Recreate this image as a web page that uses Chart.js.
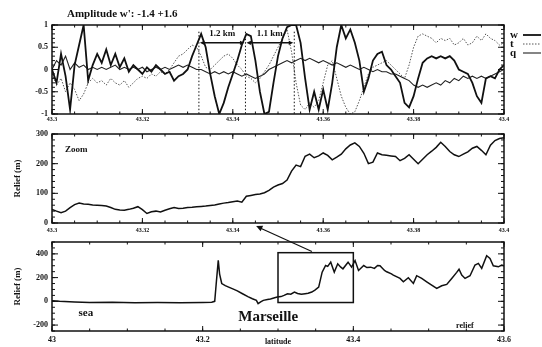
<!DOCTYPE html>
<html>
<head>
<meta charset="utf-8">
<script src="https://cdn.jsdelivr.net/npm/chart.js@4.4.1/dist/chart.umd.min.js"></script>
<style>
    html, body { margin: 0; padding: 0; background: #fff; }
    #wrap { position: relative; width: 542px; height: 347px; }
    canvas { position: absolute; left: 0; top: 0; }
</style>
</head>
<body>
<div id="wrap">
    <canvas id="c1" width="542" height="347"></canvas>
    <canvas id="c2" width="542" height="347"></canvas>
    <canvas id="c3" width="542" height="347"></canvas>
</div>
<script>
// latitude of the zoomed track (panels 1 and 2)
const lat = [43.300,43.301,43.302,43.303,43.304,43.305,43.306,43.307,43.308,43.309,
    43.310,43.311,43.312,43.313,43.314,43.315,43.316,43.317,43.318,43.319,
    43.320,43.321,43.322,43.323,43.324,43.325,43.326,43.327,43.328,43.329,
    43.330,43.331,43.332,43.333,43.334,43.335,43.336,43.337,43.338,43.339,
    43.340,43.341,43.342,43.343,43.344,43.345,43.346,43.347,43.348,43.349,
    43.350,43.351,43.352,43.353,43.354,43.355,43.356,43.357,43.358,43.359,
    43.360,43.361,43.362,43.363,43.364,43.365,43.366,43.367,43.368,43.369,
    43.370,43.371,43.372,43.373,43.374,43.375,43.376,43.377,43.378,43.379,
    43.380,43.381,43.382,43.383,43.384,43.385,43.386,43.387,43.388,43.389,
    43.390,43.391,43.392,43.393,43.394,43.395,43.396,43.397,43.398,43.399,
    43.400];

// normalised amplitudes
const wVals = [0.0,-0.3,0.35,-0.15,-0.9,0.1,0.55,1.0,-0.25,0.1,
    0.35,0.15,0.45,0.1,0.35,0.05,0.25,-0.05,0.1,0.0,
    -0.1,0.05,-0.05,0.1,0.0,-0.1,-0.05,-0.25,-0.15,-0.1,
    0.0,0.3,0.55,0.8,0.5,-0.1,-0.6,-1.0,-0.75,-0.4,
    -0.1,0.2,0.55,0.8,0.75,0.2,-0.5,-1.0,-0.95,-0.3,
    0.3,0.7,0.95,1.0,1.0,0.6,-0.2,-0.9,-0.5,-0.9,
    -0.45,-0.9,-0.3,0.5,1.0,0.7,0.9,0.6,0.2,-0.5,
    -0.2,0.2,0.35,0.4,0.1,0.0,-0.15,-0.3,-0.75,-0.85,
    -0.6,-0.2,0.15,0.25,0.3,0.25,0.3,0.25,0.3,0.2,
    0.0,-0.05,-0.1,-0.3,-0.6,-0.75,-0.2,-0.15,-0.2,0.0,
    0.1];
const tVals = [-0.1,-0.35,-0.2,-0.5,-0.3,-0.45,-0.7,-0.55,-0.3,-0.2,
    -0.3,-0.25,-0.35,-0.2,-0.3,-0.35,-0.25,-0.4,-0.3,-0.2,
    -0.15,-0.2,-0.1,-0.15,-0.05,-0.1,0.0,0.15,0.3,0.35,
    0.45,0.55,0.5,0.3,0.05,0.0,0.1,0.2,0.3,0.35,
    0.25,0.1,0.0,-0.15,-0.2,-0.3,-0.2,-0.05,0.1,0.3,
    0.5,0.7,0.9,0.4,-0.3,-0.8,-0.9,-0.75,-0.85,-0.7,
    -0.3,0.1,0.2,-0.2,-0.6,-0.85,-1.0,-0.95,-0.7,-0.4,
    -0.1,0.05,0.1,0.15,0.2,0.1,0.0,-0.1,-0.2,0.1,
    0.5,0.75,0.8,0.75,0.7,0.6,0.7,0.65,0.7,0.55,
    0.6,0.7,0.55,0.6,0.75,0.65,0.8,0.7,0.65,0.55,
    0.6];
const qVals = [0.0,0.2,0.1,0.3,0.0,0.15,0.05,0.1,0.0,0.05,
    0.0,0.05,0.0,0.05,0.1,0.0,0.05,0.0,0.05,0.0,
    0.05,-0.05,0.0,0.05,0.0,0.05,0.0,0.05,0.1,0.05,
    0.1,0.05,0.0,0.0,-0.05,-0.1,-0.05,-0.1,-0.05,-0.1,
    -0.05,-0.1,-0.15,-0.1,-0.15,-0.2,-0.15,-0.1,0.0,0.05,
    0.1,0.15,0.2,0.15,0.2,0.25,0.2,0.25,0.2,0.15,
    0.2,0.15,0.1,0.15,0.1,0.05,0.1,0.05,0.0,0.05,
    0.0,-0.05,0.0,-0.05,-0.05,-0.1,-0.1,-0.15,-0.2,-0.25,
    -0.35,-0.4,-0.35,-0.4,-0.35,-0.3,-0.35,-0.25,-0.3,-0.2,
    -0.25,-0.15,-0.2,-0.15,-0.2,-0.15,-0.2,-0.15,-0.1,-0.05,
    0.0];

// relief on the zoomed track (m)
const reliefZoom = [46,40,35,40,52,62,67,64,63,61,
    60,59,57,52,46,44,43,46,50,55,
    45,32,38,40,37,43,48,52,49,50,
    52,53,55,56,57,59,61,64,67,69,
    72,74,70,90,93,96,98,102,110,121,
    128,133,145,175,195,190,225,232,220,226,
    236,228,213,222,232,250,263,270,258,235,
    200,205,236,230,228,226,224,210,218,230,
    215,200,215,230,242,255,272,258,241,230,
    224,232,240,252,258,245,230,262,278,285,
    287];

// full track: sea -> Marseille -> inland
const latWide = [43.000,43.010,43.030,43.050,43.080,43.110,43.140,43.170,43.200,43.212,
    43.216,43.218,43.2207,43.2225,43.2253,43.230,43.2345,43.240,43.246,43.2529,
    43.260,43.266,43.2713,43.2736,43.277,43.2805,43.286,43.290,43.2989,43.304,
    43.308,43.3126,43.317,43.3218,43.326,43.331,43.336,43.340,43.3448,43.349,
    43.354,43.3586,43.3632,43.366,43.370,43.3747,43.3793,43.383,43.3862,43.393,
    43.3977,43.4023,43.4069,43.4138,43.418,43.423,43.428,43.4322,43.4354,43.4414,
    43.4443,43.4506,43.4531,43.462,43.4664,43.473,43.4797,43.4841,43.4908,43.4974,
    43.504,43.5107,43.5173,43.524,43.5306,43.5372,43.5403,43.5439,43.5483,43.5549,
    43.5615,43.566,43.5704,43.577,43.5814,43.5858,43.5925,43.597,43.600];
const reliefWide = [5,0,-5,-10,-8,-12,-10,-12,-10,-8,
    0,150,345,230,150,132,120,105,88,64,
    40,22,8,-20,-5,8,15,20,36,40,
    50,64,60,78,66,59,64,68,78,95,
    120,246,302,295,330,246,316,290,274,330,
    288,344,260,302,285,288,278,302,300,260,
    249,232,221,193,165,199,151,216,193,165,
    137,109,131,143,193,244,270,221,193,216,
    306,320,278,384,362,300,291,306,300];

// axis ticks
const ampTicks = [-1, -0.5, 0, 0.5, 1];
const zoomTicks = [43.3, 43.32, 43.34, 43.36, 43.38, 43.4];
const reliefZoomTicks = [0, 100, 200, 300];
const wideTicks = [43, 43.2, 43.4, 43.6];
const reliefWideTicks = [-200, 0, 200, 400];

// distances between updraft cores
const markLat = [43.3325, 43.3428, 43.3536];
const spanText = ['1.2 km', '1.1 km'];

const serif = '"Liberation Serif", "DejaVu Serif", serif';
const ink = '#111';

function eachStep(min, max, step, fn) {
    const n0 = Math.ceil(min / step - 1e-6), n1 = Math.floor(max / step + 1e-6);
    for (let n = n0; n <= n1; n++) fn(n * step);
}

// box around the plot with inward ticks
const frame = {
    id: 'frame',
    afterDatasetsDraw(chart, args, o) {
        const { ctx, chartArea: a, scales: { x, y } } = chart;
        ctx.save();
        ctx.strokeStyle = ink;
        ctx.lineWidth = 1.5;
        ctx.strokeRect(a.left, a.top, a.right - a.left, a.bottom - a.top);
        ctx.lineWidth = 1;
        ctx.beginPath();
        eachStep(y.min, y.max, o.yMinor, v => {
            const p = y.getPixelForValue(v);
            ctx.moveTo(a.left, p); ctx.lineTo(a.left + 3, p);
            ctx.moveTo(a.right, p); ctx.lineTo(a.right - 3, p);
        });
        y.ticks.forEach(t => {
            const p = y.getPixelForValue(t.value);
            ctx.moveTo(a.left, p); ctx.lineTo(a.left + 6, p);
            ctx.moveTo(a.right, p); ctx.lineTo(a.right - 6, p);
        });
        eachStep(x.min, x.max, o.xMinor, v => {
            const p = x.getPixelForValue(v);
            ctx.moveTo(p, a.bottom); ctx.lineTo(p, a.bottom - 2.5);
            ctx.moveTo(p, a.top); ctx.lineTo(p, a.top + 2.5);
        });
        x.ticks.forEach(t => {
            const p = x.getPixelForValue(t.value);
            ctx.moveTo(p, a.bottom); ctx.lineTo(p, a.bottom - 5);
            ctx.moveTo(p, a.top); ctx.lineTo(p, a.top + 5);
        });
        ctx.stroke();
        ctx.restore();
    }
};

// w / t / q key at the right of panel 1
const sideLegend = {
    id: 'sideLegend',
    afterDraw(chart) {
        const { ctx, chartArea: a } = chart;
        const offs = [10, 19, 28];
        ctx.save();
        ctx.font = 'bold 11px ' + serif;
        ctx.textBaseline = 'middle';
        chart.data.datasets.forEach((ds, k) => {
            const yy = a.top + offs[k];
            ctx.fillStyle = ink;
            ctx.fillText(ds.label, a.right + 6, yy);
            ctx.strokeStyle = ds.borderColor;
            ctx.lineWidth = ds.borderWidth;
            ctx.setLineDash(ds.borderDash || []);
            ctx.beginPath();
            ctx.moveTo(a.right + 19, yy);
            ctx.lineTo(a.right + 37, yy);
            ctx.stroke();
            ctx.setLineDash([]);
        });
        ctx.restore();
    }
};

function arrowHead(ctx, x0, y0, x1, y1, size) {
    const ang = Math.atan2(y1 - y0, x1 - x0);
    ctx.beginPath();
    ctx.moveTo(x1, y1);
    ctx.lineTo(x1 - size * Math.cos(ang - 0.45), y1 - size * Math.sin(ang - 0.45));
    ctx.lineTo(x1 - size * Math.cos(ang + 0.45), y1 - size * Math.sin(ang + 0.45));
    ctx.closePath();
    ctx.fill();
}

// title, dotted core markers and km spans
const ampNotes = {
    id: 'ampNotes',
    afterDraw(chart) {
        const { ctx, scales: { x, y }, chartArea: a } = chart;
        ctx.save();
        ctx.fillStyle = ink;
        ctx.strokeStyle = ink;
        ctx.font = 'bold 11px ' + serif;
        ctx.textBaseline = 'middle';
        ctx.fillText("Amplitude w': -1.4 +1.6", a.left + 15, a.top - 11);

        ctx.lineWidth = 1;
        ctx.setLineDash([1.5, 2]);
        markLat.forEach(m => {
            const p = x.getPixelForValue(m);
            ctx.beginPath();
            ctx.moveTo(p, y.getPixelForValue(0.85));
            ctx.lineTo(p, y.getPixelForValue(-1));
            ctx.stroke();
        });
        ctx.setLineDash([]);

        ctx.font = 'bold 9px ' + serif;
        ctx.textAlign = 'center';
        spanText.forEach((txt, k) => {
            const x0 = x.getPixelForValue(markLat[k]) + 1;
            const x1 = x.getPixelForValue(markLat[k + 1]) - 1;
            const ya = y.getPixelForValue(0.6);
            ctx.fillText(txt, (x0 + x1) / 2, y.getPixelForValue(0.8));
            ctx.lineWidth = 1.5;
            ctx.beginPath();
            ctx.moveTo(x0 + 3, ya); ctx.lineTo(x1 - 3, ya);
            ctx.stroke();
            arrowHead(ctx, x1, ya, x0, ya, 5);
            arrowHead(ctx, x0, ya, x1, ya, 5);
        });
        ctx.restore();
    }
};

const zoomNote = {
    id: 'zoomNote',
    afterDraw(chart) {
        const { ctx, chartArea: a } = chart;
        ctx.save();
        ctx.fillStyle = ink;
        ctx.font = 'bold 9px ' + serif;
        ctx.textBaseline = 'middle';
        ctx.fillText('Zoom', a.left + 13, a.top + 16);
        ctx.restore();
    }
};

// box showing the zoom window, arrow up to panel 2, place names
const wideNotes = {
    id: 'wideNotes',
    afterDraw(chart) {
        const { ctx, scales: { x, y } } = chart;
        ctx.save();
        ctx.strokeStyle = ink;
        ctx.fillStyle = ink;
        ctx.lineWidth = 1.5;
        const bx0 = x.getPixelForValue(lat[0]), bx1 = x.getPixelForValue(lat[lat.length - 1]);
        const by0 = y.getPixelForValue(-10), by1 = y.getPixelForValue(410);
        ctx.strokeRect(bx0, by1, bx1 - bx0, by0 - by1);

        const tx = x.getPixelForValue(43.345), ty = y.getPixelForValue(420);
        const hx = x.getPixelForValue(43.271), hy = y.getPixelForValue(635);
        ctx.lineWidth = 1.2;
        ctx.beginPath();
        ctx.moveTo(tx, ty); ctx.lineTo(hx + 4, hy + 2);
        ctx.stroke();
        arrowHead(ctx, tx, ty, hx, hy, 7);

        ctx.textBaseline = 'middle';
        ctx.textAlign = 'center';
        ctx.font = 'bold 11px ' + serif;
        ctx.fillText('sea', x.getPixelForValue(43.045), y.getPixelForValue(-100));
        ctx.font = 'bold 15px ' + serif;
        ctx.fillText('Marseille', x.getPixelForValue(43.287), y.getPixelForValue(-135));
        ctx.font = 'bold 8px ' + serif;
        ctx.fillText('relief', x.getPixelForValue(43.548), y.getPixelForValue(-205));
        ctx.restore();
    }
};

function tickFont(size) {
    return { family: serif, weight: 'bold', size: size };
}

function xScale(min, max, ticks, h, pad, size, title) {
    return {
        type: 'linear', min: min, max: max,
        afterBuildTicks: s => { s.ticks = ticks.map(v => ({ value: v })); },
        afterFit: s => { s.height = h; },
        grid: { display: false, drawTicks: false },
        border: { display: false },
        ticks: { font: tickFont(size), color: ink, padding: pad, maxRotation: 0, autoSkip: false, callback: v => String(v) },
        title: title ? { display: true, text: title, font: tickFont(8), color: ink, padding: { top: 0, bottom: 0 } } : { display: false }
    };
}

function yScale(min, max, ticks, title) {
    return {
        min: min, max: max,
        afterBuildTicks: s => { s.ticks = ticks.map(v => ({ value: v })); },
        afterFit: s => { s.width = 52; },
        grid: { display: false, drawTicks: false },
        border: { display: false },
        ticks: { font: tickFont(8), color: ink, padding: 4, autoSkip: false, callback: v => String(v) },
        title: title ? { display: true, text: title, font: tickFont(9), color: ink, padding: { top: 12, bottom: 0 } } : { display: false }
    };
}

const base = {
    responsive: false,
    animation: false,
    elements: { point: { radius: 0 }, line: { tension: 0 } }
};

// panel 1: w, t, q amplitudes
new Chart(document.getElementById('c1'), {
    type: 'line',
    data: {
        datasets: [
            { label: 'w', data: lat.map((x, i) => ({ x: x, y: wVals[i] })), borderColor: '#111', borderWidth: 1.8 },
            { label: 't', data: lat.map((x, i) => ({ x: x, y: tVals[i] })), borderColor: '#555', borderWidth: 1, borderDash: [1.5, 1.5] },
            { label: 'q', data: lat.map((x, i) => ({ x: x, y: qVals[i] })), borderColor: '#222', borderWidth: 1.1 }
        ]
    },
    options: Object.assign({}, base, {
        layout: { padding: { left: 0, right: 38, top: 25, bottom: 223 } },
        plugins: { legend: { display: false }, tooltip: { enabled: false }, frame: { yMinor: 0.1, xMinor: 0.005 } },
        scales: { x: xScale(43.3, 43.4, zoomTicks, 10, 2, 6), y: yScale(-1, 1, ampTicks) }
    }),
    plugins: [frame, sideLegend, ampNotes]
});

// panel 2: zoomed relief
new Chart(document.getElementById('c2'), {
    type: 'line',
    data: {
        datasets: [
            { label: 'relief', data: lat.map((x, i) => ({ x: x, y: reliefZoom[i] })), borderColor: '#111', borderWidth: 1.5 }
        ]
    },
    options: Object.assign({}, base, {
        layout: { padding: { left: 0, right: 38, top: 134, bottom: 112 } },
        plugins: { legend: { display: false }, tooltip: { enabled: false }, frame: { yMinor: 20, xMinor: 0.005 } },
        scales: { x: xScale(43.3, 43.4, zoomTicks, 12, 4, 6), y: yScale(0, 300, reliefZoomTicks, 'Relief (m)') }
    }),
    plugins: [frame, zoomNote]
});

// panel 3: whole track
new Chart(document.getElementById('c3'), {
    type: 'line',
    data: {
        datasets: [
            { label: 'relief', data: latWide.map((x, i) => ({ x: x, y: reliefWide[i] })), borderColor: '#111', borderWidth: 1.5 }
        ]
    },
    options: Object.assign({}, base, {
        layout: { padding: { left: 0, right: 38, top: 242, bottom: 0 } },
        plugins: { legend: { display: false }, tooltip: { enabled: false }, frame: { yMinor: 50, xMinor: 0.05 } },
        scales: { x: xScale(43, 43.6, wideTicks, 16, 4, 8, 'latitude'), y: yScale(-250, 500, reliefWideTicks, 'Relief (m)') }
    }),
    plugins: [frame, wideNotes]
});
</script>
</body>
</html>
